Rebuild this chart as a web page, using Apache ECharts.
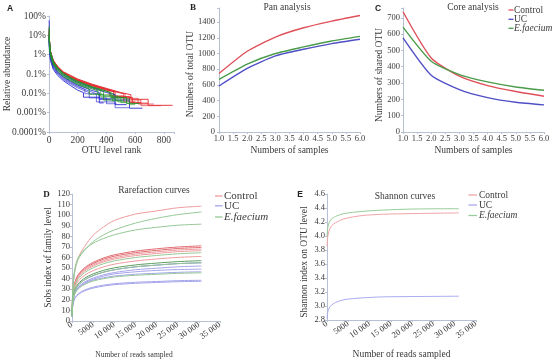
<!DOCTYPE html>
<html>
<head>
<meta charset="utf-8">
<script src="https://cdn.jsdelivr.net/npm/echarts@6/dist/echarts.min.js"></script>
<style>
  html, body { margin: 0; padding: 0; background: #fff; }
  #fig { width: 557px; height: 364px; }
</style>
</head>
<body>
<div id="fig"></div>
<script>
// A: rank-abundance curves, [OTU rank, relative abundance %]
var rankCtrl = [
  [[1,15],[3,5],[10,1.5],[30,0.5],[60,0.25],[100,0.13],[150,0.085],[200,0.055],[300,0.03],[400,0.018],[500,0.011],[570,0.0085],[570,0.0049],[690,0.0049],[690,0.0024],[860,0.0024]],
  [[1,12],[3,4],[10,1.3],[30,0.45],[60,0.22],[100,0.12],[150,0.075],[200,0.05],[300,0.027],[400,0.016],[480,0.011],[530,0.0095],[530,0.0055],[620,0.0055],[620,0.0028],[730,0.0028]],
  [[1,20],[3,6],[10,1.6],[30,0.5],[60,0.24],[100,0.12],[150,0.07],[200,0.046],[300,0.025],[400,0.015],[450,0.012],[450,0.0068],[560,0.0068],[560,0.0034],[640,0.0034]],
  [[1,25],[3,5],[10,1.2],[30,0.4],[60,0.2],[100,0.11],[150,0.068],[200,0.044],[300,0.024],[380,0.015],[420,0.0125],[420,0.0075],[520,0.0075],[520,0.0037],[600,0.0037]],
  [[1,10],[3,3.5],[10,1.2],[30,0.42],[60,0.21],[100,0.115],[150,0.07],[200,0.047],[300,0.026],[400,0.016],[460,0.012],[460,0.0062],[580,0.0062],[580,0.0031],[690,0.0031]],
  [[1,18],[3,4.5],[10,1.4],[30,0.48],[60,0.23],[100,0.125],[150,0.08],[200,0.052],[300,0.028],[400,0.017],[500,0.0105],[520,0.0095],[520,0.0045],[640,0.0045],[640,0.0023],[780,0.0023]]
];
var rankEf = [
  [[1,30],[3,6],[10,1.5],[30,0.45],[60,0.21],[100,0.11],[150,0.065],[200,0.042],[300,0.022],[400,0.013],[430,0.011],[430,0.006],[540,0.006],[540,0.003],[630,0.003]],
  [[1,12],[3,4],[10,1.2],[30,0.4],[60,0.19],[100,0.1],[150,0.06],[200,0.038],[300,0.02],[380,0.013],[380,0.0072],[480,0.0072],[480,0.0036],[560,0.0036]],
  [[1,8],[3,3],[10,1],[30,0.33],[60,0.16],[100,0.085],[150,0.05],[200,0.032],[300,0.017],[340,0.0135],[340,0.0082],[440,0.0082],[440,0.0041],[520,0.0041]],
  [[1,20],[3,5],[10,1.3],[30,0.42],[60,0.2],[100,0.105],[150,0.062],[200,0.04],[300,0.021],[400,0.0125],[450,0.0095],[450,0.0052],[560,0.0052],[560,0.0026],[600,0.0026]],
  [[1,9],[3,2.8],[10,0.9],[30,0.3],[60,0.14],[100,0.075],[150,0.045],[200,0.029],[280,0.017],[280,0.009],[380,0.009],[380,0.0045],[470,0.0045]],
  [[1,15],[3,4.2],[10,1.25],[30,0.4],[60,0.19],[100,0.1],[150,0.06],[200,0.039],[300,0.021],[360,0.015],[360,0.0066],[500,0.0066],[500,0.0033],[540,0.0033]]
];
var rankUC = [
  [[1,60],[3,6],[10,1.2],[30,0.35],[60,0.17],[100,0.09],[150,0.055],[200,0.036],[300,0.019],[400,0.011],[460,0.0085],[460,0.0045],[560,0.0045],[560,0.0017],[650,0.0017]],
  [[1,8],[3,2.5],[10,0.8],[30,0.25],[60,0.12],[100,0.065],[150,0.038],[200,0.024],[250,0.016],[250,0.0095],[350,0.0095],[350,0.0048],[430,0.0048]],
  [[1,5],[3,1.5],[10,0.5],[30,0.17],[60,0.085],[100,0.045],[150,0.025],[200,0.0145],[240,0.011],[240,0.0063],[350,0.0063],[350,0.0032],[380,0.0032]],
  [[1,6],[3,2],[10,0.6],[30,0.2],[60,0.1],[100,0.052],[150,0.03],[200,0.019],[280,0.011],[280,0.0058],[400,0.0058],[400,0.0029],[470,0.0029]],
  [[1,10],[3,3],[10,0.9],[30,0.28],[60,0.13],[100,0.07],[150,0.042],[200,0.027],[300,0.014],[350,0.011],[350,0.0052],[460,0.0052],[460,0.0026],[540,0.0026]],
  [[1,7],[3,2.2],[10,0.7],[30,0.22],[60,0.11],[100,0.058],[150,0.034],[200,0.022],[300,0.0115],[330,0.0095],[330,0.0036],[460,0.0036],[460,0.0018],[560,0.0018]]
];

// B / C: pan and core OTU
var samples = [1, 2, 3, 4, 5, 6];
var panCtrl = [746, 1029, 1210, 1328, 1413, 1485];
var panUC = [586, 810, 970, 1054, 1126, 1181];
var panEf = [670, 865, 1000, 1084, 1160, 1219];
var coreCtrl = [737, 454, 342, 284, 248, 219];
var coreUC = [577, 348, 260, 211, 182, 166];
var coreEf = [643, 434, 352, 307, 276, 256];

// D: rarefaction (sobs, family level)
var readsD = [0, 100, 300, 700, 1500, 3000, 5000, 7500, 10000, 15000, 20000, 25000, 30600];
var sobsCtrl = [
  [5, 20, 35, 48, 60, 70.5, 81, 89, 95, 101, 104, 107, 108.5],
  [5.7, 17.8, 28.4, 36.9, 44, 50.4, 55.4, 59.6, 62.5, 66, 68.2, 69.9, 71],
  [5.6, 17.4, 27.8, 36.1, 43.1, 49.3, 54.2, 58.4, 61.2, 64.6, 66.7, 68.5, 69.5],
  [5.4, 17, 27.2, 35.4, 42.2, 48.3, 53, 57.1, 59.8, 63.2, 65.3, 67, 68],
  [5.3, 16.6, 26.6, 34.6, 41.2, 47.2, 51.9, 55.9, 58.5, 61.8, 63.8, 65.5, 66.5],
  [4.9, 15.3, 24.4, 31.7, 37.8, 43.3, 47.6, 51.2, 53.7, 56.7, 58.6, 60.1, 61]
];
var sobsEf = [
  [5.2, 20, 35, 48, 58.5, 67, 75, 81.5, 86, 92.5, 97, 100.5, 103],
  [5.5, 21, 37, 50, 60, 67.5, 73.5, 78, 81.5, 86, 88.5, 90.5, 91.5],
  [5.2, 16.1, 25.8, 33.5, 40, 45.8, 50.3, 54.2, 56.8, 60, 61.9, 63.5, 64.5],
  [4.6, 14.3, 22.8, 29.6, 35.3, 40.5, 44.5, 47.9, 50.2, 53, 54.7, 56.1, 57],
  [4.4, 13.8, 22, 28.6, 34.1, 39, 42.9, 46.2, 48.4, 51.2, 52.8, 54.2, 55],
  [5.5, 13.7, 20.5, 25.9, 30.5, 34.6, 37.8, 40, 41.6, 43.2, 44.1, 45, 45.5]
];
var sobsUC = [
  [4.4, 13.8, 22, 28.6, 34.1, 39, 42.9, 46.2, 48.4, 51.2, 52.8, 54.2, 55],
  [4.2, 13, 20.8, 27, 32.2, 36.9, 40.6, 43.7, 45.8, 48.4, 49.9, 51.2, 52],
  [4.5, 13.5, 20.5, 26.5, 31.5, 36, 39.5, 42.5, 44.5, 46.5, 47.8, 48.6, 49],
  [5.6, 14, 20.9, 26.5, 31.2, 35.3, 38.6, 40.9, 42.5, 44.2, 45.1, 46, 46.5],
  [4.6, 11.6, 17.3, 21.9, 25.8, 29.3, 32, 33.9, 35.2, 36.6, 37.3, 38.1, 38.5],
  [4.5, 11.3, 16.9, 21.4, 25.1, 28.5, 31.1, 33, 34.3, 35.6, 36.4, 37.1, 37.5]
];

// E: shannon curves
var readsE = [0, 200, 500, 1000, 2000, 4000, 8000, 13000, 20000, 31000];
var shanCtrl = [3.85, 4.0, 4.08, 4.14, 4.19, 4.245, 4.29, 4.31, 4.32, 4.33];
var shanUC = [2.82, 2.92, 2.97, 3.01, 3.05, 3.09, 3.115, 3.13, 3.135, 3.14];
var shanEf = [4.0, 4.12, 4.19, 4.24, 4.28, 4.32, 4.35, 4.37, 4.385, 4.39];

var groups = ['Control', 'UC', 'E.faecium'];

var SERIF = 'Liberation Serif';
var TXT = '#3a3a3a';
var AXC = '#b7c1d3';

var dom = document.getElementById('fig');
var myChart = echarts.init(dom, null, { renderer: 'canvas' });

function pairs(xs, ys) {
  return xs.map(function (x, i) { return [x, ys[i]]; });
}

function line(name, idx, data, color, width, opacity, smooth) {
  return {
    name: name,
    type: 'line',
    xAxisIndex: idx,
    yAxisIndex: idx,
    data: data,
    showSymbol: false,
    symbol: 'none',
    smooth: smooth || false,
    silent: true,
    lineStyle: { color: color, width: width, opacity: opacity }
  };
}

function readsLabel(v) {
  if (v >= 10000) return Math.floor(v / 1000) + ' 000';
  return String(v);
}

function axis(gi, o) {
  return Object.assign({
    type: 'value',
    gridIndex: gi,
    splitLine: { show: false },
    axisLine: { show: true, onZero: false, lineStyle: { color: AXC, width: 1 } },
    axisTick: { show: true, length: 2, lineStyle: { color: AXC } },
    nameLocation: 'middle',
    nameMoveOverlap: false,
    nameTextStyle: { fontFamily: SERIF, fontSize: 9.5, color: TXT }
  }, o);
}

function lbl(size, margin, fmt, extra) {
  return Object.assign({
    fontFamily: SERIF, fontSize: size, color: TXT, margin: margin,
    hideOverlap: false, formatter: fmt
  }, extra || {});
}

var series = [];
var colA = ['#e3262b', '#2d2ed0', '#21922a'];
[rankCtrl, rankUC, rankEf].forEach(function (grp, g) {
  grp.forEach(function (c, k) {
    series.push(line(groups[g], 0, c, colA[g], 1, k % 2 ? 0.65 : 0.9));
  });
});

var colBC = ['#e0505a', '#4f4fc6', '#4a9c4a'];
[panCtrl, panUC, panEf].forEach(function (v, g) {
  series.push(line(groups[g], 1, pairs(samples, v), colBC[g], 1.4, 1, 0.2));
});
[coreCtrl, coreUC, coreEf].forEach(function (v, g) {
  series.push(line(groups[g], 2, pairs(samples, v), colBC[g], 1.4, 1, 0.2));
});

var colD = ['#ee9a9e', '#a4a4ea', '#94c894'];
var colDdark = ['#e06a70', '#7a7ad8', '#5e9e5e'];
[sobsCtrl, sobsUC, sobsEf].forEach(function (grp, g) {
  grp.forEach(function (v, k) {
    var dark = (g === 0 && (k === 1 || k === 2)) || (g === 2 && k === 3) || (g === 1 && k === 0);
    series.push(line(groups[g], 3, pairs(readsD, v), dark ? colDdark[g] : colD[g], 1, 1, 0.3));
  });
});

var colE = ['#f0a4a6', '#aaaaf0', '#98cc98'];
[shanCtrl, shanUC, shanEf].forEach(function (v, g) {
  series.push(line(groups[g], 4, pairs(readsE, v), colE[g], 1, 1, 0.3));
});

function txt(x, y, s, font, align, color) {
  return {
    type: 'text', x: x, y: y, silent: true,
    style: {
      text: s, font: font, fill: color || TXT,
      align: align || 'center', verticalAlign: 'middle',
      textAlign: align || 'center', textVerticalAlign: 'middle'
    }
  };
}
function seg(x1, x2, y, color) {
  return { type: 'line', silent: true, shape: { x1: x1, y1: y, x2: x2, y2: y }, style: { stroke: color, lineWidth: 1.3 } };
}

function legend(x1, x2, tx, ys, cols, size) {
  var out = [];
  groups.forEach(function (g, i) {
    out.push(seg(x1, x2, ys[i], cols[i]));
    out.push(txt(tx, ys[i], g, (i === 2 ? 'italic ' : '') + size + 'px ' + SERIF, 'left'));
  });
  return out;
}

var graphics = [
  txt(10, 9, 'A', 'bold 8.5px Liberation Sans', 'center', '#222'),
  txt(193, 8, 'B', 'bold 9px Liberation Serif', 'center', '#222'),
  txt(378, 8.7, 'C', 'bold 8.5px Liberation Sans', 'center', '#222'),
  txt(46.5, 194.7, 'D', 'bold 9px Liberation Serif', 'center', '#222'),
  txt(300, 195, 'E', 'bold 8.5px Liberation Sans', 'center', '#222'),
  txt(287, 7, 'Pan analysis', '9.5px ' + SERIF),
  txt(473, 7, 'Core analysis', '9.5px ' + SERIF),
  txt(154, 190, 'Rarefaction curves', '9.5px ' + SERIF),
  txt(405, 196, 'Shannon curves', '9.5px ' + SERIF)
].concat(
  legend(508.5, 513.5, 514, [10, 19.3, 28.3], ['#e0505a', '#4f4fc6', '#4a9c4a'], 9.5),
  legend(215, 222.5, 224, [196, 205.8, 217], ['#ee9a9e', '#a4a4ea', '#94c894'], 11),
  legend(468.5, 477, 479, [195, 205, 215.5], ['#f0a4a6', '#aaaaf0', '#98cc98'], 9.5)
);

option = {
  animation: false,
  textStyle: { fontFamily: SERIF },
  grid: [
    { left: 49, top: 16, width: 125, height: 116, outerBoundsMode: 'none', containLabel: false },
    { left: 219, top: 8, width: 141, height: 124, outerBoundsMode: 'none', containLabel: false },
    { left: 403, top: 8, width: 141, height: 124, outerBoundsMode: 'none', containLabel: false },
    { left: 72, top: 194, width: 148, height: 127, outerBoundsMode: 'none', containLabel: false },
    { left: 327, top: 194, width: 149, height: 126, outerBoundsMode: 'none', containLabel: false }
  ],
  xAxis: [
    axis(0, { min: 0, max: 870, interval: 200, name: 'OTU level rank', nameGap: 13,
      axisLabel: lbl(9.5, 3, function (v) { return v % 200 === 0 ? String(v) : ''; }) }),
    axis(1, { min: 1, max: 6, interval: 0.5, name: 'Numbers of samples', nameGap: 13,
      axisLabel: lbl(8.5, 2, function (v) { return v.toFixed(1); }) }),
    axis(2, { min: 1, max: 6, interval: 0.5, name: 'Numbers of samples', nameGap: 13,
      axisLabel: lbl(8.5, 2, function (v) { return v.toFixed(1); }) }),
    axis(3, { min: 0, max: 35000, interval: 5000, name: 'Number of reads sampled', nameGap: 30,
      nameTextStyle: { fontFamily: SERIF, fontSize: 7.5, color: TXT, padding: [0, 24, 0, 0] },
      axisLabel: lbl(8.5, 3, readsLabel, { rotate: 35 }) }),
    axis(4, { min: 0, max: 35000, interval: 5000, name: 'Number of reads sampled', nameGap: 29,
      axisLabel: lbl(8.5, 3, readsLabel, { rotate: 35 }) })
  ],
  yAxis: [
    axis(0, { type: 'log', logBase: 10, min: 0.0001, max: 100, name: 'Relative abundance', nameGap: 36.5,
      axisLabel: lbl(9.5, 3, function (v) {
        var e = Math.round(Math.log(v) / Math.LN10);
        return (e >= 0 ? String(Math.pow(10, e)) : Math.pow(10, e).toFixed(-e)) + '%';
      }) }),
    axis(1, { min: 0, max: 1580, interval: 200, name: 'Numbers of total OTU', nameGap: 24,
      nameTextStyle: { fontFamily: SERIF, fontSize: 9.5, color: TXT, padding: [0, 8, 0, 0] },
      axisLabel: lbl(8.5, 4, function (v) { return v % 200 === 0 ? String(v) : ''; }) }),
    axis(2, { min: 0, max: 760, interval: 100, name: 'Numbers of shared OTU', nameGap: 19,
      nameTextStyle: { fontFamily: SERIF, fontSize: 9.5, color: TXT, padding: [0, 10, 0, 0] },
      axisLabel: lbl(8.5, 3, function (v) { return v % 100 === 0 ? String(v) : ''; }) }),
    axis(3, { min: 0, max: 120, interval: 10, name: 'Sobs index of family level', nameGap: 18.7,
      axisLabel: lbl(8.5, 2, function (v) { return String(v); }) }),
    axis(4, { min: 2.8, max: 4.6, interval: 0.2, name: 'Shannon index on OTU level', nameGap: 17.7,
      nameTextStyle: { fontFamily: SERIF, fontSize: 9.5, color: TXT, padding: [0, 10, 0, 0] },
      axisLabel: lbl(8.5, 2, function (v) { return v.toFixed(1); }) })
  ],
  graphic: graphics,
  series: series
};

if (option && typeof option === 'object') {
  myChart.setOption(option, true);
}
</script>
</body>
</html>
